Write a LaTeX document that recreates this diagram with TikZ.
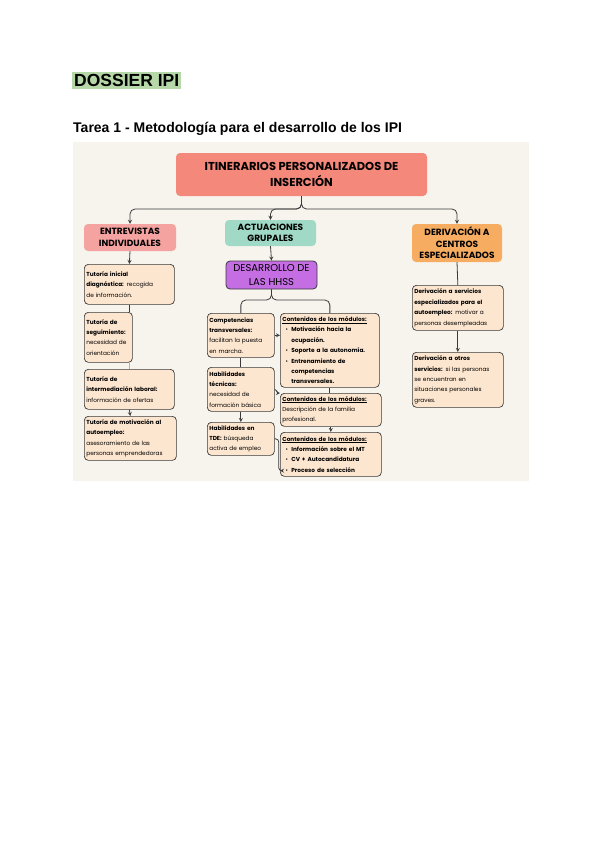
\documentclass[tikz,border=0pt]{standalone}
\usepackage{fontspec}
\setmainfont{Liberation Sans}
\newfontfamily\canvafont{Poppins}
\usepackage{tikz}
\definecolor{TitleGreen}{RGB}{182, 215, 168}
\definecolor{BgCream}{RGB}{247, 244, 238}
\definecolor{MainRed}{RGB}{244, 136, 122}
\definecolor{EntrPink}{RGB}{245, 163, 161}
\definecolor{ActMint}{RGB}{160, 217, 198}
\definecolor{DerOrange}{RGB}{246, 173, 98}
\definecolor{HhssPurple}{RGB}{197, 109, 227}
\definecolor{Peach}{RGB}{253, 230, 207}
\definecolor{EdgeGray}{RGB}{58, 58, 58}
\newcommand{\itm}[1]{\makebox[9pt][c]{\textbullet}#1}
\newcommand{\cnt}{\hspace*{9pt}}

\begin{document}
\begin{tikzpicture}[x=1pt, y=-1pt, >=stealth,
    head/.style={rounded corners=4pt, align=center, inner sep=2pt,
      font=\canvafont\bfseries\fontsize{9}{11.5}\selectfont},
    body/.style={draw=EdgeGray, fill=Peach, rounded corners=4pt, align=left,
      anchor=north west, inner sep=2pt, line width=0.7pt,
      font=\canvafont\fontsize{5.8}{10.4}\selectfont},
    conn/.style={draw=EdgeGray, line width=0.8pt}]
  \useasboundingbox (0,0) rectangle (600,848);

  % page heading
  \node[fill=TitleGreen, anchor=north west, inner sep=2pt, font=\bfseries\fontsize{17.5}{20}\selectfont] (title) at (72,72) {DOSSIER IPI};
  \node[anchor=north west, inner sep=0pt, font=\bfseries\fontsize{14}{16}\selectfont] (task) at (73,122) {Tarea 1 - Metodología para el desarrollo de los IPI};

  \fill[BgCream] (73,142) rectangle (529,481);

  % top levels
  \node[head, fill=MainRed, minimum width=251pt, minimum height=43pt, font=\canvafont\bfseries\fontsize{11.5}{16}\selectfont] (main) at (301.5,174.5) {ITINERARIOS PERSONALIZADOS DE\\INSERCIÓN};
  \node[head, fill=EntrPink, minimum width=92pt, minimum height=27pt] (entr) at (130,237.5) {ENTREVISTAS\\INDIVIDUALES};
  \node[head, fill=ActMint, minimum width=91pt, minimum height=26pt] (act) at (270.5,233) {ACTUACIONES\\GRUPALES};
  \node[head, fill=DerOrange, minimum width=90pt, minimum height=38pt] (der) at (457,243) {DERIVACIÓN A\\CENTROS\\ESPECIALIZADOS};
  \node[head, draw=EdgeGray, line width=0.8pt, fill=HhssPurple, minimum width=91pt, minimum height=28pt, font=\canvafont\fontsize{10}{13.5}\selectfont] (hhss) at (271.5,275) {DESARROLLO DE\\LAS HHSS};

  % entrevistas
  \node[body, text width=86pt, minimum height=40pt] (ini) at (84,264) {\textbf{Tutoría inicial}\\\textbf{diagnóstica:} recogida\\de información.};
  \node[body, text width=44pt, minimum height=50pt] (seg) at (84,312) {\textbf{Tutoría de}\\\textbf{seguimiento:}\\necesidad de\\orientación};
  \node[body, text width=86pt, minimum height=40pt] (inter) at (84,369) {\textbf{Tutoría de}\\\textbf{intermediación laboral:}\\información de ofertas};
  \node[body, text width=88pt, minimum height=44pt] (mot) at (84,416) {\textbf{Tutoría de motivación al}\\\textbf{autoempleo:}\\asesoramiento de las\\personas emprendedoras};

  % actuaciones
  \node[body, text width=63pt, minimum height=44pt] (comp) at (207,313) {\textbf{Competencias}\\\textbf{transversales:}\\facilitan la puesta\\en marcha.};
  \node[body, text width=63pt, minimum height=44pt] (hab) at (207,367) {\textbf{Habilidades}\\\textbf{técnicas:}\\necesidad de\\formación básica};
  \node[body, text width=63pt, minimum height=33pt] (tde) at (207,422) {\textbf{Habilidades en}\\\textbf{TDE:} búsqueda\\activa de empleo};
  \node[body, text width=95pt, minimum height=74pt] (cont1) at (280,313) {\underline{\textbf{Contenidos de los módulos:}}\\\itm{\textbf{Motivación hacia la}}\\\cnt\textbf{ocupación.}\\\itm{\textbf{Soporte a la autonomía.}}\\\itm{\textbf{Entrenamiento de}}\\\cnt\textbf{competencias}\\\cnt\textbf{transversales.}};
  \node[body, text width=97pt, minimum height=33pt] (cont2) at (280,393) {\underline{\textbf{Contenidos de los módulos:}}\\Descripción de la familia\\profesional.};
  \node[body, text width=97pt, minimum height=44pt] (cont3) at (280,432) {\underline{\textbf{Contenidos de los módulos:}}\\\itm{\textbf{Información sobre el MT}}\\\itm{\textbf{CV + Autocandidatura}}\\\itm{\textbf{Proceso de selección}}};

  % derivacion
  \node[body, text width=87pt, minimum height=45pt] (serv) at (412,285) {\textbf{Derivación a servicios}\\\textbf{especializados para el}\\\textbf{autoempleo:} motivar a\\personas desempleadas};
  \node[body, text width=87pt, minimum height=55pt] (otros) at (412,352) {\textbf{Derivación a otros}\\\textbf{servicios:} si las personas\\se encuentran en\\situaciones personales\\graves.};

  % connectors
  \coordinate (split) at (301.5,209);
  \coordinate (split2) at (271.5,300);
  \draw[conn, ->, rounded corners=5pt] (main.south) -- (split) -| (entr.north);
  \draw[conn, ->, rounded corners=5pt] (main.south) -- (split) -| (act.north);
  \draw[conn, ->, rounded corners=5pt] (main.south) -- (split) -| (der.north);
  \draw[conn, ->] (act.south) -- (hhss.north);
  \draw[conn, rounded corners=5pt] (hhss.south) -- (split2) -| (comp.north);
  \draw[conn, rounded corners=5pt] (hhss.south) -- (split2) -| (cont1.north);

  \draw[conn, ->] (entr.south) -- (ini.north);
  \draw[conn] (ini.south) -- (ini.south |- seg.north);
  \draw[conn, gray!60] (inter.north) -- (inter.north |- seg.south);
  \draw[conn, ->] (inter.south) -- (mot.north);

  \draw[conn] (comp.south) -- (hab.north);
  \draw[conn, ->] (hab.south) -- (tde.north);
  \draw[conn, ->] (comp.east) -- (comp.east -| cont1.west);
  \draw[conn, ->] (hab.east) to[out=0, in=180] (cont2.north west);
  \draw[conn, ->, rounded corners=3pt] (tde.east) -- ++(4,0) |- ([yshift=6pt]cont3.south west);
  \draw[conn] (cont1.south) -- (cont1.south |- cont2.north);
  \draw[conn, ->] (cont2.south) -- (cont3.north);

  \draw[conn] (der.south) -- (serv.north);
  \draw[conn, ->] (serv.south) -- (otros.north);
\end{tikzpicture}
\end{document}
